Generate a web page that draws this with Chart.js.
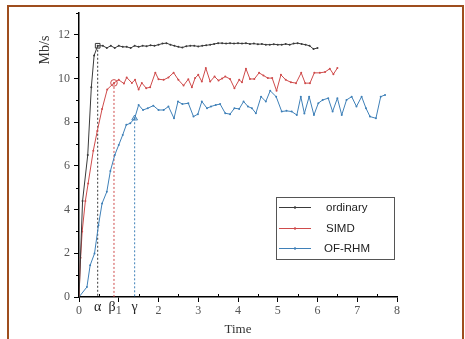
<!DOCTYPE html>
<html><head><meta charset="utf-8">
<script src="https://cdn.jsdelivr.net/npm/chart.js@4/dist/chart.umd.min.js"></script>
<style>
html,body{margin:0;padding:0;background:#fff;}
#wrap{position:relative;width:465px;height:339px;overflow:hidden;background:#fff;}
#frame{position:absolute;left:7px;top:5px;width:457px;height:400px;border:2px solid #9e4e1e;box-sizing:border-box;}
canvas{position:absolute;left:0;top:0;}
</style></head><body>
<div id="wrap"><div id="frame"></div><canvas id="c" width="465" height="339"></canvas></div>
<script>
const seriesNames = ['ordinary', 'SIMD', 'OF-RHM'];
const seriesColors = ['#3a3a3a', '#cf4b4b', '#3f80b8'];

const ordinaryX = [0,0.09,0.22,0.31,0.38,0.47,0.6,0.7,0.8,0.9,1.0,1.1,1.2,1.3,1.4,1.5,1.6,1.7,1.8,1.9,2.0,2.1,2.2,2.3,2.4,2.5,2.6,2.7,2.8,2.9,3.0,3.1,3.2,3.3,3.4,3.5,3.6,3.7,3.8,3.9,4.0,4.1,4.2,4.3,4.4,4.5,4.6,4.7,4.8,4.9,5.0,5.1,5.2,5.3,5.4,5.5,5.6,5.7,5.8,5.9,6.0];
const ordinaryY = [0,4.4,6.5,9.6,11.05,11.5,11.5,11.4,11.5,11.4,11.5,11.45,11.45,11.4,11.5,11.45,11.5,11.48,11.52,11.5,11.55,11.6,11.62,11.55,11.5,11.45,11.42,11.48,11.5,11.5,11.47,11.5,11.52,11.55,11.58,11.62,11.62,11.6,11.62,11.6,11.62,11.6,11.62,11.58,11.6,11.57,11.58,11.55,11.55,11.57,11.55,11.55,11.58,11.55,11.6,11.62,11.58,11.55,11.5,11.35,11.4];

const simdX = [0,0.04,0.08,0.16,0.23,0.36,0.46,0.58,0.71,0.88,1.0,1.13,1.2,1.33,1.41,1.5,1.58,1.69,1.79,1.92,2.0,2.13,2.25,2.38,2.5,2.63,2.75,2.84,2.92,3.0,3.09,3.19,3.3,3.41,3.51,3.6,3.68,3.8,3.91,4.03,4.1,4.2,4.3,4.41,4.53,4.64,4.75,4.86,4.97,5.08,5.2,5.33,5.46,5.59,5.69,5.81,5.92,6.06,6.19,6.31,6.4,6.5];
const simdY = [0,1.8,3.0,4.4,5.2,6.7,7.6,8.6,9.5,9.8,9.94,9.77,10.05,9.8,9.94,9.5,9.8,9.56,9.6,10.27,9.97,9.94,10.05,10.27,9.94,9.68,9.97,9.6,10.02,10.17,9.86,10.48,9.86,10.09,9.91,10.0,10.09,9.98,9.56,9.94,9.83,10.45,9.98,9.98,10.26,10.14,10.02,10.02,9.44,10.17,9.94,9.83,9.79,10.26,9.79,9.79,10.26,10.26,10.3,10.45,10.2,10.48];

const ofrhmX = [0,0.2,0.28,0.39,0.49,0.58,0.7,0.79,0.9,1.0,1.1,1.19,1.29,1.4,1.5,1.61,1.73,1.87,2.0,2.13,2.25,2.39,2.49,2.6,2.75,2.88,2.99,3.09,3.22,3.32,3.44,3.55,3.68,3.8,3.91,4.03,4.14,4.25,4.35,4.45,4.58,4.7,4.81,4.96,5.1,5.22,5.35,5.48,5.58,5.67,5.79,5.91,6.02,6.13,6.27,6.38,6.5,6.61,6.73,6.86,6.98,7.11,7.22,7.32,7.47,7.59,7.7];
const ofrhmY = [0,0.46,1.45,1.99,3.29,4.28,4.82,5.77,6.5,6.96,7.42,7.88,7.95,8.18,8.79,8.56,8.64,8.76,8.56,8.56,8.72,8.18,8.95,8.83,8.87,8.26,8.37,8.95,8.64,8.72,8.79,8.83,8.41,8.37,8.64,8.61,8.95,8.72,8.64,8.41,9.17,8.95,9.44,9.17,8.49,8.52,8.49,8.33,9.17,8.4,9.17,8.33,8.87,9.02,9.1,8.49,9.1,8.33,9.02,9.17,8.72,9.17,8.64,8.26,8.18,9.17,9.25];

const markX = [0.47, 0.88, 1.4];
const markY = [11.5, 9.8, 8.18];
const markLabels = ['α', 'β', 'γ'];
const markStyles = ['rect', 'circle', 'triangle'];

const xTitle = 'Time';
const yTitle = 'Mb/s';

const toPts = (xs, ys) => xs.map((x, i) => ({x: x, y: ys[i]}));
const seriesData = [toPts(ordinaryX, ordinaryY), toPts(simdX, simdY), toPts(ofrhmX, ofrhmY)];

const datasets = [];
seriesData.forEach((d, i) => datasets.push({
  label: seriesNames[i], data: d, showLine: true, borderColor: seriesColors[i],
  backgroundColor: seriesColors[i], borderWidth: 1, pointRadius: 1, pointHoverRadius: 0,
  pointBorderWidth: 0, tension: 0
}));
markX.forEach((mx, i) => datasets.push({
  label: 'guide' + i, data: [{x: mx, y: markY[i]}, {x: mx, y: 0}], showLine: true,
  borderColor: seriesColors[i], borderWidth: 1, borderDash: [2, 2], pointRadius: 0
}));
markX.forEach((mx, i) => datasets.push({
  label: 'mark' + i, data: [{x: mx, y: markY[i]}], showLine: false,
  pointStyle: markStyles[i], pointRadius: 3.3, backgroundColor: '#ffffff',
  borderColor: seriesColors[i], pointBorderWidth: 1
}));

const serif = "'Liberation Serif', 'DejaVu Serif', serif";
const sans = "'Liberation Sans', Arial, sans-serif";

const decor = {
  id: 'decor',
  afterDraw(chart) {
    const ctx = chart.ctx;
    const xs = chart.scales.x, ys = chart.scales.y;
    ctx.save();
    // minor ticks
    ctx.strokeStyle = '#000'; ctx.lineWidth = 1;
    xs.ticks.forEach(t => {
      if (Math.abs(t.value - Math.round(t.value)) > 1e-6) {
        const px = Math.round(xs.getPixelForValue(t.value)) + 0.5;
        ctx.beginPath(); ctx.moveTo(px, ys.bottom); ctx.lineTo(px, ys.bottom - 3); ctx.stroke();
      }
    });
    ys.ticks.forEach(t => {
      if (Math.round(t.value) % 2 !== 0) {
        const py = Math.round(ys.getPixelForValue(t.value)) + 0.5;
        ctx.beginPath(); ctx.moveTo(xs.left, py); ctx.lineTo(xs.left - 3, py); ctx.stroke();
      }
    });
    // alpha beta gamma labels
    ctx.fillStyle = '#222'; ctx.font = '14px ' + serif;
    ctx.textAlign = 'center'; ctx.textBaseline = 'middle';
    markX.forEach((mx, i) => {
      ctx.fillText(markLabels[i], xs.getPixelForValue(mx) + (i === 1 ? -2 : 0), ys.bottom + 10);
    });
    // axis titles
    ctx.fillStyle = '#333'; ctx.font = '13px ' + serif;
    ctx.fillText(xTitle, (xs.left + xs.right) / 2, 330);
    ctx.save();
    ctx.translate(45, 50); ctx.rotate(-Math.PI / 2);
    ctx.font = '14px ' + serif;
    ctx.fillText(yTitle, 0, 0);
    ctx.restore();
    // legend
    const L = 276.5, T = 197.5, W = 118, H = 62;
    ctx.strokeStyle = '#555'; ctx.lineWidth = 1;
    ctx.strokeRect(L, T, W, H);
    const rowY = [207.5, 228.5, 248.5];
    ctx.font = '11.5px ' + sans; ctx.textAlign = 'left';
    seriesNames.forEach((n, i) => {
      ctx.strokeStyle = seriesColors[i]; ctx.lineWidth = 1;
      ctx.beginPath(); ctx.moveTo(279, rowY[i]); ctx.lineTo(311, rowY[i]); ctx.stroke();
      ctx.fillStyle = seriesColors[i];
      ctx.beginPath(); ctx.arc(295, rowY[i], 1.2, 0, Math.PI * 2); ctx.fill();
      ctx.fillStyle = '#222';
      ctx.fillText(n, i === 2 ? 324 : 326, rowY[i]);
    });
    ctx.restore();
  }
};

new Chart(document.getElementById('c'), {
  type: 'scatter',
  data: {datasets: datasets},
  plugins: [decor],
  options: {
    responsive: false, animation: false, devicePixelRatio: 1,
    layout: {padding: {left: 0, right: 68, top: 13, bottom: 0}},
    plugins: {legend: {display: false}, tooltip: {enabled: false}},
    scales: {
      x: {
        type: 'linear', min: 0, max: 8,
        afterFit(s) { s.height = 42; },
        ticks: {stepSize: 0.5, autoSkip: false, maxRotation: 0, padding: 2, color: '#555',
          font: {family: serif, size: 12},
          callback: v => (Math.abs(v - Math.round(v)) < 1e-6 ? String(Math.round(v)) : '')},
        grid: {drawOnChartArea: false, tickLength: 5, lineWidth: 1,
          color: c => (c.tick && Math.abs(c.tick.value - Math.round(c.tick.value)) < 1e-6 ? '#000' : 'rgba(0,0,0,0)')},
        border: {color: '#000', width: 1.5}
      },
      y: {
        type: 'linear', min: 0, max: 13,
        afterFit(s) { s.width = 79; },
        ticks: {stepSize: 1, autoSkip: false, padding: 4, color: '#555',
          font: {family: serif, size: 12},
          callback: v => (Math.round(v) % 2 === 0 ? String(v) : '')},
        grid: {drawOnChartArea: false, tickLength: 5, lineWidth: 1,
          color: c => (c.tick && Math.round(c.tick.value) % 2 === 0 ? '#000' : 'rgba(0,0,0,0)')},
        border: {color: '#000', width: 1.5}
      }
    }
  }
});
</script>
</body></html>
